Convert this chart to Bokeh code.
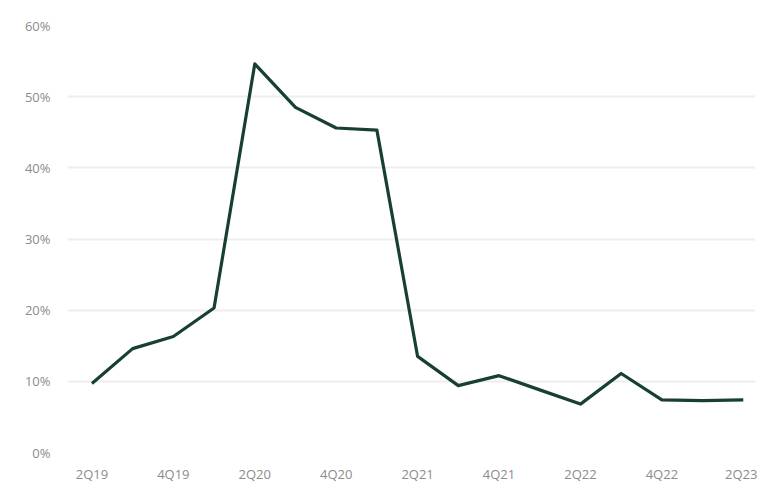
from bokeh.plotting import figure
from bokeh.models import Range1d, FixedTicker, NumeralTickFormatter
from bokeh.embed import file_html
from bokeh.resources import INLINE

quarters = ["2Q19", "3Q19", "4Q19", "1Q20", "2Q20", "3Q20", "4Q20", "1Q21", "2Q21",
            "3Q21", "4Q21", "1Q22", "2Q22", "3Q22", "4Q22", "1Q23", "2Q23"]
values = [0.097, 0.146, 0.163, 0.203, 0.546, 0.485, 0.456, 0.453, 0.135,
          0.094, 0.108, 0.088, 0.068, 0.111, 0.074, 0.073, 0.074]
y_ticks = [0, 0.1, 0.2, 0.3, 0.4, 0.5, 0.6]

x = list(range(len(quarters)))

p = figure(width=757, height=485, output_backend="svg", toolbar_location=None,
           x_range=Range1d(-0.6, 16.3), y_range=Range1d(0, 0.6),
           min_border_left=67, min_border_right=2, min_border_top=25, min_border_bottom=27)
p.outline_line_color = None
p.background_fill_color = "white"
p.border_fill_color = "white"

p.line(x, values, line_color="#173f32", line_width=3.2, line_join="round")

p.xaxis.ticker = FixedTicker(ticks=x[::2])
p.xaxis.major_label_overrides = {i: quarters[i] for i in x}
p.yaxis.ticker = FixedTicker(ticks=y_ticks)
p.yaxis.formatter = NumeralTickFormatter(format="0%")

for ax in (p.xaxis, p.yaxis):
    ax.axis_line_color = None
    ax.major_tick_line_color = None
    ax.minor_tick_line_color = None
    ax.major_label_text_color = "#8c8c8c"
    ax.major_label_text_font = "Open Sans"
    ax.major_label_text_font_size = "13px"
p.xaxis.major_label_standoff = 6
p.yaxis.major_label_standoff = 11

p.xgrid.grid_line_color = None
p.ygrid.grid_line_color = "#eeeeee"
p.ygrid.grid_line_width = 2

open("out.html", "w").write(file_html(p, INLINE))
